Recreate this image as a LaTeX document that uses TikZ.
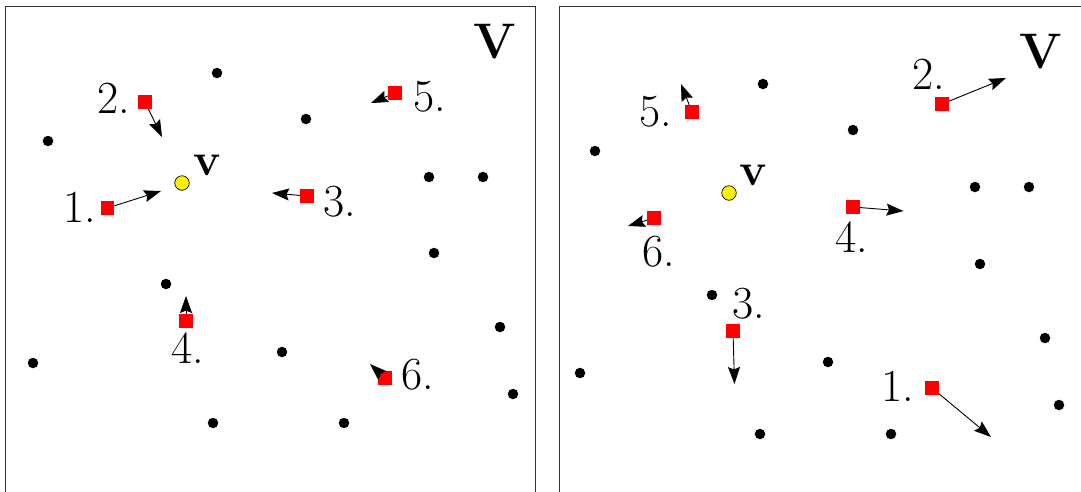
\documentclass[tikz,border=0pt]{standalone}
\usepackage{amsmath,amssymb}
\usepackage{tikz}
\usetikzlibrary{arrows.meta}

\begin{document}
\begin{tikzpicture}[x=1pt, y=-1pt,
	pt/.style={circle, fill=black, inner sep=0pt, minimum size=10.5pt},
	agent/.style={rectangle, fill=red, inner sep=0pt, minimum size=13.5pt},
	goal/.style={circle, draw=black, fill=yellow, line width=0.7pt, inner sep=0pt, minimum size=14.5pt},
	lbl/.style={font=\fontsize{46}{50}\selectfont, inner sep=0pt},
	big/.style={font=\fontsize{50}{54}\selectfont\bfseries, inner sep=0pt},
	move/.style={-{Stealth[length=17pt, width=12pt, inset=2.5pt]}, line width=0.9pt}]
	\useasboundingbox (0,0) rectangle (1081,491);
	% left frame
	\draw[line width=1pt, black!80] (5,6) rectangle (535,530);
	\node[big] (bigV0) at (495,42) {V};
	\node[pt] (p0) at (217,73) {};
	\node[pt] (p1) at (48,141) {};
	\node[pt] (p2) at (306,119) {};
	\node[pt] (p3) at (429,177) {};
	\node[pt] (p4) at (483,177) {};
	\node[pt] (p5) at (434,253) {};
	\node[pt] (p6) at (166,284) {};
	\node[pt] (p7) at (500,327) {};
	\node[pt] (p8) at (33,363) {};
	\node[pt] (p9) at (282,352) {};
	\node[pt] (p10) at (513,394) {};
	\node[pt] (p11) at (213,423) {};
	\node[pt] (p12) at (344,423) {};
	\node[goal] (v0) at (182,183) {};
	\node[lbl, font=\fontsize{46}{50}\selectfont\bfseries] (vl0) at (207,165) {v};
	\node[agent] (a1) at (107.5,208) {};
	\node[agent] (a2) at (145,102) {};
	\node[agent] (a3) at (307,196) {};
	\node[agent] (a4) at (186,321) {};
	\node[agent] (a5) at (395,93) {};
	\node[agent] (a6) at (385,378) {};
	\node[lbl] (al1) at (80,207) {1.};
	\node[lbl] (al2) at (114,98) {2.};
	\node[lbl] (al3) at (340,202) {3.};
	\node[lbl] (al4) at (188,348) {4.};
	\node[lbl] (al5) at (430,97) {5.};
	\node[lbl] (al6) at (418,375) {6.};
	\coordinate (at1) at (161,191);
	\coordinate (at2) at (162,137);
	\coordinate (at3) at (272,193);
	\coordinate (at4) at (186,296);
	\coordinate (at5) at (371,103);
	\coordinate (at6) at (370,364);
	\draw[move] (a1) -- (at1);
	\draw[move] (a2) -- (at2);
	\draw[move] (a3) -- (at3);
	\draw[move] (a4) -- (at4);
	\draw[move] (a5) -- (at5);
	\draw[move] (a6) -- (at6);
	% right frame
	\draw[line width=1pt, black!80] (559,6) rectangle (1110,530);
	\node[big] (bigV1) at (1041,52) {V};
	\node[pt] (q0) at (763,84) {};
	\node[pt] (q1) at (853,130) {};
	\node[pt] (q2) at (595,151) {};
	\node[pt] (q3) at (975,187) {};
	\node[pt] (q4) at (1029,187) {};
	\node[pt] (q5) at (980,264) {};
	\node[pt] (q6) at (712,295) {};
	\node[pt] (q7) at (1045,338) {};
	\node[pt] (q8) at (828,362) {};
	\node[pt] (q9) at (580,373) {};
	\node[pt] (q10) at (1059,405) {};
	\node[pt] (q11) at (760,434) {};
	\node[pt] (q12) at (891,434) {};
	\node[goal] (v1) at (729,193) {};
	\node[lbl, font=\fontsize{46}{50}\selectfont\bfseries] (vl1) at (753,175) {v};
	\node[agent] (b1) at (932,388) {};
	\node[agent] (b2) at (942,104) {};
	\node[agent] (b3) at (733,331) {};
	\node[agent] (b4) at (853,207) {};
	\node[agent] (b5) at (692,112) {};
	\node[agent] (b6) at (654,218) {};
	\node[lbl] (bl1) at (898,386) {1.};
	\node[lbl] (bl2) at (929,74) {2.};
	\node[lbl] (bl3) at (749,304) {3.};
	\node[lbl] (bl4) at (852,237) {4.};
	\node[lbl] (bl5) at (656,112) {5.};
	\node[lbl] (bl6) at (659,252) {6.};
	\coordinate (bt1) at (991,437);
	\coordinate (bt2) at (1006,78);
	\coordinate (bt3) at (734.5,384);
	\coordinate (bt4) at (903.5,211);
	\coordinate (bt5) at (681,84);
	\coordinate (bt6) at (628,226);
	\draw[move] (b1) -- (bt1);
	\draw[move] (b2) -- (bt2);
	\draw[move] (b3) -- (bt3);
	\draw[move] (b4) -- (bt4);
	\draw[move] (b5) -- (bt5);
	\draw[move] (b6) -- (bt6);
\end{tikzpicture}
\end{document}
